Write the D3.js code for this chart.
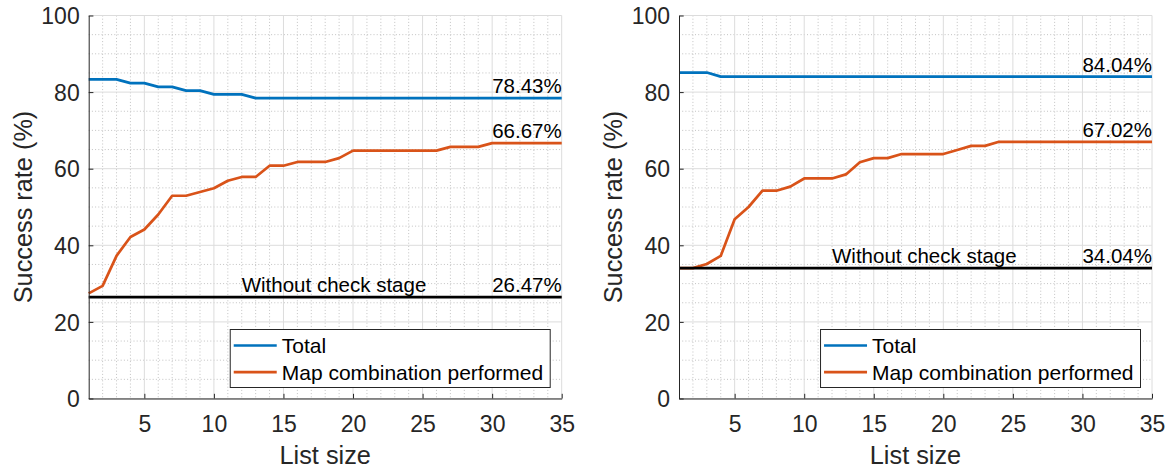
<!DOCTYPE html>
<html>
<head>
<meta charset="utf-8">
<script src="https://cdn.jsdelivr.net/npm/d3@7"></script>
<style>
  html, body { margin: 0; padding: 0; background: #fff; }
  svg { display: block; font-family: "Liberation Sans", Arial, sans-serif; }
</style>
</head>
<body>
<svg id="chart" width="1173" height="470"></svg>
<script>
// ---------------- DATA ----------------
const listSize = [1,2,3,4,5,6,7,8,9,10,11,12,13,14,15,16,17,18,19,20,21,22,23,24,25,26,27,28,29,30,31,32,33,34,35];
const xTicks = [5, 10, 15, 20, 25, 30, 35];
const yTicks = [0, 20, 40, 60, 80, 100];

const leftTotal = [83.33,83.33,83.33,82.35,82.35,81.37,81.37,80.39,80.39,79.41,79.41,79.41,
  78.43,78.43,78.43,78.43,78.43,78.43,78.43,78.43,78.43,78.43,78.43,78.43,78.43,78.43,78.43,78.43,78.43,78.43,78.43,78.43,78.43,78.43,78.43];
const leftMap = [27.45,29.41,37.25,42.16,44.12,48.04,52.94,52.94,53.92,54.90,56.86,57.84,57.84,60.78,60.78,61.76,61.76,61.76,62.75,64.71,
  64.71,64.71,64.71,64.71,64.71,64.71,65.69,65.69,65.69,66.67,66.67,66.67,66.67,66.67,66.67];
const leftWithout = 26.47;

const rightTotal = [85.11,85.11,85.11,84.04,84.04,84.04,84.04,84.04,84.04,84.04,84.04,84.04,84.04,84.04,84.04,84.04,84.04,84.04,
  84.04,84.04,84.04,84.04,84.04,84.04,84.04,84.04,84.04,84.04,84.04,84.04,84.04,84.04,84.04,84.04,84.04];
const rightMap = [34.04,34.04,35.11,37.23,46.81,50.00,54.26,54.26,55.32,57.45,57.45,57.45,58.51,61.70,62.77,62.77,63.83,63.83,63.83,63.83,
  64.89,65.96,65.96,67.02,67.02,67.02,67.02,67.02,67.02,67.02,67.02,67.02,67.02,67.02,67.02];
const rightWithout = 34.04;

const seriesNames = ["Total", "Map combination performed"];
const baselineName = "Without check stage";
const xLabel = "List size";
const yLabel = "Success rate (%)";

// ---------------- STYLE / LAYOUT ----------------
const colors = { total: "#0072BD", map: "#D95319", base: "#000000", axis: "#262626" };
const panels = [
  { left: 88.7, total: leftTotal, map: leftMap, without: leftWithout },
  { left: 679.0, total: rightTotal, map: rightMap, without: rightWithout }
];
const plotW = 473, plotTop = 15.5, plotBottom = 398.5;

const svg = d3.select("#chart");

panels.forEach(p => {
  const x = d3.scaleLinear().domain([1, 35]).range([p.left, p.left + plotW]);
  const y = d3.scaleLinear().domain([0, 100]).range([plotBottom, plotTop]);
  const g = svg.append("g");

  // minor grid (dotted)
  const minorX = listSize.filter(v => xTicks.indexOf(v) < 0 && v !== 1);
  const minorY = d3.range(0, 101, 5).filter(v => v % 20 !== 0);
  g.append("g").selectAll("line").data(minorX).join("line")
    .attr("x1", d => x(d)).attr("x2", d => x(d)).attr("y1", plotTop).attr("y2", plotBottom)
    .attr("stroke", "#bcbcbc").attr("stroke-width", 0.9).attr("stroke-dasharray", "1,2.2");
  g.append("g").selectAll("line").data(minorY).join("line")
    .attr("y1", d => y(d)).attr("y2", d => y(d)).attr("x1", x(1)).attr("x2", x(35))
    .attr("stroke", "#bcbcbc").attr("stroke-width", 0.9).attr("stroke-dasharray", "1,2.2");
  // major grid
  g.append("g").selectAll("line").data(xTicks).join("line")
    .attr("x1", d => x(d)).attr("x2", d => x(d)).attr("y1", plotTop).attr("y2", plotBottom)
    .attr("stroke", "#dcdcdc").attr("stroke-width", 1);
  g.append("g").selectAll("line").data(yTicks).join("line")
    .attr("y1", d => y(d)).attr("y2", d => y(d)).attr("x1", x(1)).attr("x2", x(35))
    .attr("stroke", "#dcdcdc").attr("stroke-width", 1);

  // lines
  const line = d3.line().x((d, i) => x(listSize[i])).y(d => y(d));
  g.append("path").datum(p.map).attr("d", line).attr("fill", "none")
    .attr("stroke", colors.map).attr("stroke-width", 2.7).attr("stroke-linejoin", "round");
  g.append("path").datum(p.total).attr("d", line).attr("fill", "none")
    .attr("stroke", colors.total).attr("stroke-width", 2.7).attr("stroke-linejoin", "round");
  g.append("path").datum([p.without, p.without]).attr("d", d3.line().x((d, i) => x(i === 0 ? 1 : 35)).y(d => y(d)))
    .attr("fill", "none").attr("stroke", colors.base).attr("stroke-width", 2.8);

  // axes
  const xAxis = d3.axisBottom(x).tickValues(xTicks).tickSizeInner(-4.7).tickSizeOuter(0).tickPadding(12);
  const yAxis = d3.axisLeft(y).tickValues(yTicks).tickSizeInner(-4.7).tickSizeOuter(0).tickPadding(9);
  const gx = g.append("g").attr("transform", `translate(0,${plotBottom})`).call(xAxis);
  const gy = g.append("g").attr("transform", `translate(${p.left},0)`).call(yAxis);
  [gx, gy].forEach(ax => {
    ax.select(".domain").attr("stroke", colors.axis).attr("stroke-width", 1);
    ax.selectAll(".tick line").attr("stroke", colors.axis).attr("stroke-width", 1);
    ax.selectAll(".tick text").attr("fill", colors.axis).attr("font-size", "23px")
      .attr("font-family", "Liberation Sans, Arial, sans-serif");
  });
  gx.selectAll(".tick text").attr("dy", null).attr("y", 33.2);
  gy.selectAll(".tick text").attr("dy", "0.36em");

  // axis labels
  g.append("text").attr("x", p.left + plotW / 2).attr("y", 464).attr("text-anchor", "middle")
    .attr("font-size", "25.3px").attr("fill", colors.axis).text(xLabel);
  g.append("text").attr("transform", `translate(${p.left - 57.2},${(plotTop + plotBottom) / 2}) rotate(-90)`)
    .attr("text-anchor", "middle").attr("font-size", "25.3px").attr("fill", colors.axis).text(yLabel);

  // annotations
  const ann = (xv, yv, txt, anchor) => g.append("text").attr("x", x(xv)).attr("y", y(yv) - 5)
    .attr("text-anchor", anchor).attr("font-size", "20.5px").attr("fill", "#000").text(txt);
  ann(35, p.total[34], p.total[34].toFixed(2) + "%", "end");
  ann(35, p.map[34], p.map[34].toFixed(2) + "%", "end");
  ann(35, p.without, p.without.toFixed(2) + "%", "end");
  ann(12, p.without, baselineName, "start");

  // legend
  const lg = g.append("g");
  const box = lg.append("rect").attr("fill", "#fff").attr("stroke", colors.axis).attr("stroke-width", 1);
  const texts = seriesNames.map((name, i) => lg.append("text").attr("font-size", "21px").attr("fill", "#000")
    .attr("x", 0).attr("y", 0).text(name));
  const maxW = d3.max(texts, t => t.node().getComputedTextLength());
  const legW = 3.5 + 43 + 5 + maxW + 7, legH = 58;
  const lx = x(35) - 11.5 - legW, ly = plotBottom - 11 - legH;
  box.attr("x", lx).attr("y", ly).attr("width", legW).attr("height", legH);
  [colors.total, colors.map].forEach((c, i) => {
    const cy = ly + 16 + i * 26.7;
    lg.append("line").attr("x1", lx + 3.5).attr("x2", lx + 46.5).attr("y1", cy).attr("y2", cy)
      .attr("stroke", c).attr("stroke-width", 2.7);
    texts[i].attr("x", lx + 51.5).attr("y", cy + 7.5);
  });
});
</script>
</body>
</html>
